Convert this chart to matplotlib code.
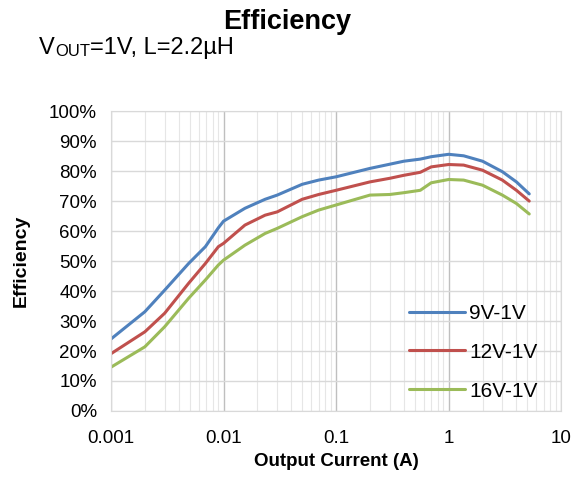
import matplotlib
matplotlib.use("Agg")
import matplotlib.pyplot as plt
from matplotlib.ticker import FixedLocator, LogLocator, NullFormatter

plt.rcParams['font.family'] = ['Liberation Sans', 'DejaVu Sans']

# output current (A)
current = [0.001, 0.002, 0.003, 0.0049, 0.0069, 0.009, 0.01, 0.0155, 0.0234,
           0.03, 0.05, 0.07, 0.1, 0.2, 0.3, 0.4, 0.56, 0.7, 1.0, 1.36,
           2.0, 3.0, 4.0, 5.2]

# efficiency (%)
eff_9v = [24.0, 33.1, 40.3, 49.2, 54.8, 61.1, 63.3, 67.6, 70.6,
          72.0, 75.6, 77.0, 78.1, 80.9, 82.3, 83.3, 84.0, 84.8, 85.6, 85.1,
          83.3, 79.8, 76.4, 72.4]
eff_12v = [19.1, 26.4, 32.6, 42.6, 49.2, 54.8, 55.9, 62.0, 65.3,
           66.4, 70.6, 72.2, 73.6, 76.4, 77.6, 78.6, 79.6, 81.4, 82.2, 82.0,
           80.3, 77.0, 73.6, 70.0]
eff_16v = [14.6, 21.4, 28.1, 37.6, 43.7, 48.7, 50.3, 55.3, 59.2,
           60.9, 64.8, 67.0, 68.7, 72.0, 72.2, 72.8, 73.6, 76.1, 77.2, 77.0,
           75.3, 72.0, 69.2, 65.7]

series = [("9V-1V", eff_9v, "#4F81BD"),
          ("12V-1V", eff_12v, "#C0504D"),
          ("16V-1V", eff_16v, "#9BBB59")]

yticks = list(range(0, 101, 10))
xticks = [0.001, 0.01, 0.1, 1, 10]
xticklabels = ["0.001", "0.01", "0.1", "1", "10"]

fig = plt.figure(figsize=(5.75, 4.79), dpi=100)
ax = fig.add_axes([0.193, 0.142, 0.783, 0.626])

for name, vals, col in series:
    ax.plot(current, vals, color=col, lw=2.2, label=name,
            solid_joinstyle="round", solid_capstyle="round")

ax.set_xscale("log")
ax.set_xlim(0.001, 10)
ax.set_ylim(0, 100)
ax.set_yticks(yticks)
ax.set_yticklabels([f"{v}%" for v in yticks])
ax.xaxis.set_major_locator(FixedLocator(xticks))
ax.set_xticklabels(xticklabels)
ax.xaxis.set_minor_locator(LogLocator(base=10, subs=range(2, 10)))
ax.xaxis.set_minor_formatter(NullFormatter())

ax.grid(True, which="major", axis="y", color="#d9d9d9", lw=1)
ax.grid(True, which="major", axis="x", color="#bfbfbf", lw=1)
ax.grid(True, which="minor", axis="x", color="#e6e6e6", lw=0.8)
ax.set_axisbelow(True)
for s in ax.spines.values():
    s.set_color("#d9d9d9")
ax.tick_params(which="both", length=0, labelsize=13.5)
ax.tick_params(axis="y", pad=10)
ax.tick_params(axis="x", pad=14)

ax.set_xlabel("Output Current (A)", fontsize=13.5, fontweight="bold", labelpad=4)
ax.set_ylabel("Efficiency", fontsize=14, fontweight="bold", labelpad=14)

leg = ax.legend(loc="lower left", bbox_to_anchor=(0.638, 0.0), frameon=False,
                fontsize=15, handlelength=2.7, handletextpad=0.2,
                labelspacing=0.95, borderpad=0)

fig.text(0.5, 0.939, "Efficiency", ha="center", va="baseline",
         fontsize=19.5, fontweight="bold")
t1 = fig.text(0.068, 0.887, "V", ha="left", va="baseline", fontsize=17)
a2 = ax.annotate("OUT", xy=(1, 0), xycoords=t1, fontsize=12,
                 ha="left", va="bottom", annotation_clip=False)
a3 = ax.annotate("=1V, L=2.2µH", xy=(1, 0), xycoords=a2, fontsize=17,
                 ha="left", va="bottom", annotation_clip=False)

fig.savefig("out.png", dpi=100)
